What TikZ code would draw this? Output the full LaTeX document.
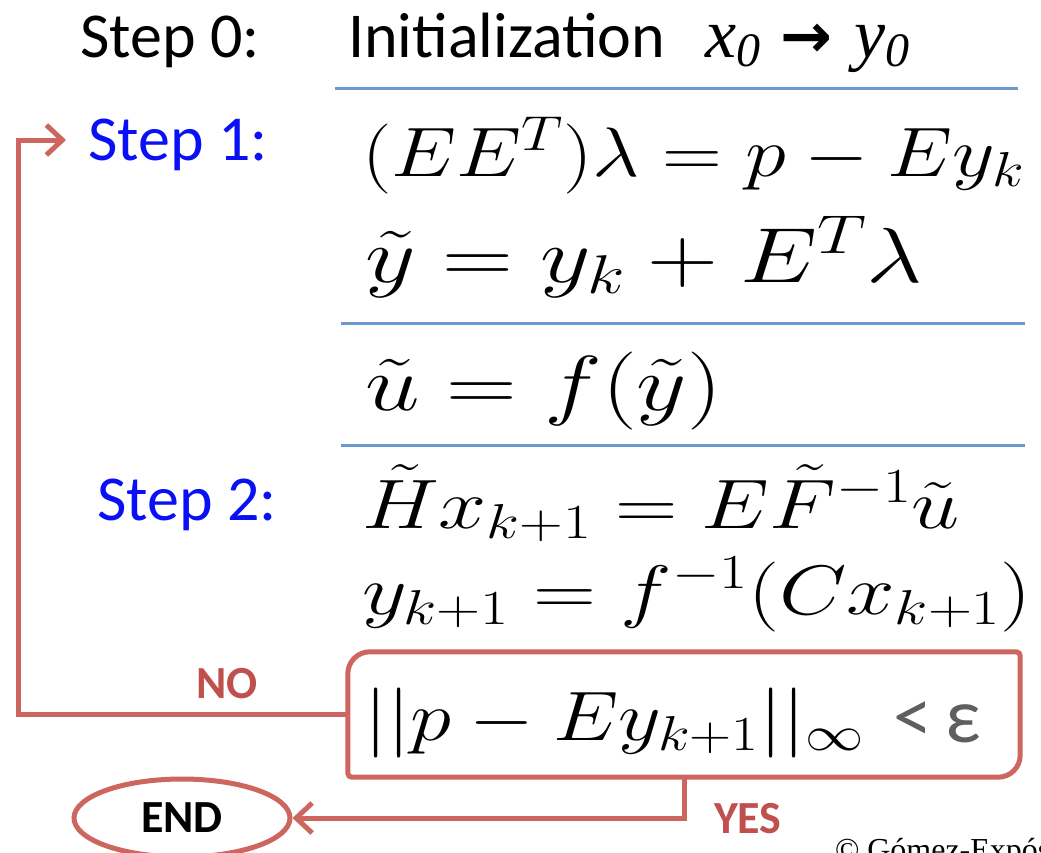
\documentclass[tikz,border=0pt]{standalone}
\usepackage{fix-cm}
\usepackage{graphicx}
\usepackage[no-math]{fontspec}
\usepackage{amsmath}
\newfontfamily\carlito{Carlito}
\newfontfamily\timesf{Liberation Serif}
\newfontfamily\dejavu{DejaVu Sans}
\usetikzlibrary{arrows.meta,shapes.geometric}
\definecolor{linkred}{HTML}{CD665E}
\definecolor{labred}{HTML}{C0504D}
\definecolor{sepblue}{HTML}{6A9AD0}
\definecolor{stepblue}{HTML}{0A10F5}
\definecolor{epsgray}{HTML}{5F5F5F}
\newcommand{\eqA}[2]{\scalebox{#1}[1]{#2}}
\tikzset{
  txt/.style={anchor=base west, inner sep=0pt, outer sep=0pt},
  steplabel/.style={txt, font=\carlito\fontsize{64}{72}\selectfont},
  eqn/.style={txt, font=\fontsize{70}{80}\selectfont},
  eqnbig/.style={txt, font=\fontsize{78}{88}\selectfont},
  flowlab/.style={txt, font=\carlito\bfseries\fontsize{46}{52}\selectfont, text=labred},
  conn/.style={draw=linkred, line width=5pt},
  sep/.style={draw=sepblue, line width=3pt},
  tip/.style={-{Straight Barb[length=16pt,width=30pt,line width=5pt]}}
}
\begin{document}
\begin{tikzpicture}[x=1pt,y=-1pt]
\useasboundingbox (0,0) rectangle (1041,852);
\clip (0,0) rectangle (1041,852);
% step labels
\node[steplabel] (s0) at (80,57) {Step 0:};
\node[steplabel] (init) at (348,57) {Initialization};
\node[txt, font=\timesf\itshape\fontsize{70}{72}\selectfont] (xy) at (705,57)
  {x\raisebox{-0.3ex}{\fontsize{48}{48}\selectfont 0}\hspace{20pt}{\dejavu\bfseries\fontsize{62}{62}\selectfont →}\hspace{22pt}y\raisebox{-0.3ex}{\fontsize{48}{48}\selectfont 0}};
\node[steplabel, text=stepblue] (s1) at (88,160) {Step 1:};
\node[steplabel, text=stepblue] (s2) at (97,520) {Step 2:};
% separators
\draw[sep] (335,88) -- (1018,88);
\draw[sep] (341,323) -- (1025,323);
\draw[sep] (341,445) -- (1025,445);
% equations
\node[eqn] (e1) at (362,176) {\eqA{1.185}{$(EE^T)\lambda = p - Ey_k$}};
\node[eqnbig] (e2) at (365,282) {\eqA{1.26}{$\tilde y = y_k + E^T\lambda$}};
\node[eqnbig] (e3) at (365,410) {\eqA{1.255}{$\tilde u = f(\tilde y)$}};
\node[eqn] (e4) at (362,528) {\eqA{1.235}{$\tilde H x_{k+1} = E\tilde F^{-1}\tilde u$}};
\node[eqn] (e5) at (362,614) {\eqA{1.246}{$y_{k+1} = f^{-1}(Cx_{k+1})$}};
% condition box
\node[draw=none, minimum width=672pt, minimum height=125pt, inner sep=0pt] (cond) at (684,714.5) {};
\node[eqn] (e6) at (364,740) {\eqA{1.19}{$||p - Ey_{k+1}||_\infty$}};
\node[txt, font=\carlito\fontsize{78}{80}\selectfont, text=epsgray] (lt) at (893,742) {<\hspace{14pt}ε};
\draw[conn] (cond.west)
  {[rounded corners=22pt] -- (cond.north west) -- (cond.north)}
  {[rounded corners=4pt] -- (cond.north east) -- (cond.east)}
  {[rounded corners=22pt] -- (cond.south east) -- (cond.south)}
  {[rounded corners=4pt] -- (cond.south west) -- cycle};
% end node
\node[ellipse, draw=linkred, line width=5pt, minimum width=216pt, minimum height=78pt, inner sep=0pt,
      font=\carlito\bfseries\fontsize{46}{52}\selectfont] (endn) at (182,818) {END};
% connectors
\coordinate (loopx) at (18,400);
\coordinate (s1in) at (66,140);
\draw[conn, tip] (cond.west) -- (cond.west -| loopx) |- (s1in);
\draw[conn, tip] (cond.south) |- (endn.east);
\node[flowlab] (no) at (196,698) {NO};
\node[flowlab] (yes) at (714,833) {YES};
% copyright
\node[txt, font=\timesf\fontsize{32}{34}\selectfont] (copy) at (835,860) {© Gómez-Expósito};
\end{tikzpicture}
\end{document}
